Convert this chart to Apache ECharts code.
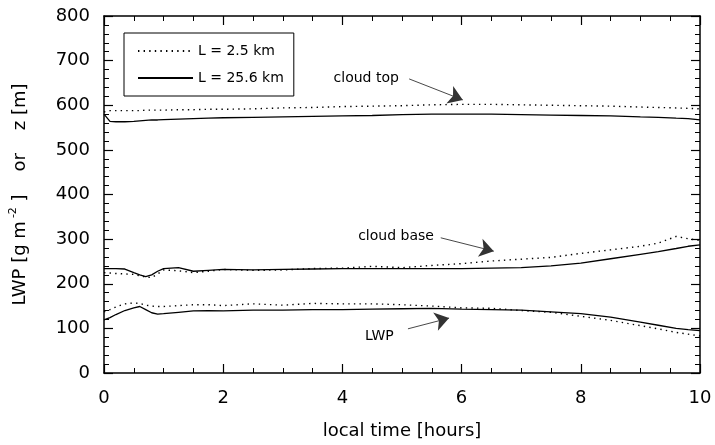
<!DOCTYPE html>
<html>
<head>
<meta charset="utf-8">
<script src="https://cdn.jsdelivr.net/npm/echarts@6/dist/echarts.min.js"></script>
<style>
  html, body { margin: 0; padding: 0; background: #fff; }
  #chart { width: 715px; height: 445px; }
</style>
</head>
<body>
<div id="chart"></div>
<script>
// local time [hours], shared by all curves
const times = [0, 0.1, 0.2, 0.35, 0.5, 0.6, 0.7, 0.8, 0.9, 1.0, 1.25, 1.5, 1.75, 2, 2.5, 3,
  3.5, 4, 4.5, 5, 5.5, 6, 6.5, 7, 7.5, 8, 8.5, 9, 9.3, 9.6, 9.8, 10];

// L = 2.5 km (dotted)
const topFine = [585, 588, 588, 588, 588, 588, 589, 589, 589, 589, 590, 590, 591, 591, 592, 594,
  595, 597, 598, 599, 601, 602, 602, 601, 600, 599, 598, 596, 595, 594, 593, 592];
const baseFine = [225, 224, 223, 222, 221, 218, 215, 214, 222, 231, 229, 225, 228, 232, 230, 231,
  234, 235, 239, 236, 241, 245, 251, 255, 259, 268, 276, 284, 291, 306, 301, 297];
const lwpFine = [137, 142, 148, 155, 157, 156, 152, 150, 149, 149, 151, 153, 153, 151, 155, 152,
  156, 155, 155, 153, 150, 146, 145, 140, 136, 127, 118, 106, 99, 91, 87, 83];

// L = 25.6 km (solid)
const topCoarse = [580, 564, 563, 563, 564, 565, 566, 567, 567, 568, 569, 570, 571, 572, 573, 574,
  575, 576, 577, 579, 580, 580, 580, 579, 578, 577, 576, 574, 573, 571, 570, 567];
const baseCoarse = [234, 234, 234, 233, 225, 220, 216, 220, 228, 234, 236, 228, 230, 232, 231, 232,
  233, 234, 234, 234, 234, 234, 235, 236, 240, 246, 256, 266, 272, 279, 284, 287];
const lwpCoarse = [119, 124, 131, 140, 146, 149, 142, 135, 132, 133, 136, 139, 140, 139, 141, 141,
  142, 142, 143, 144, 145, 143, 142, 141, 137, 133, 125, 114, 107, 100, 97, 95];

// annotations: text, text position, arrow start, arrow tip (data coords)
const notes = [
  { text: 'cloud top', at: [4.4, 661], from: [5.12, 659], to: [6.02, 612] },
  { text: 'cloud base', at: [4.9, 307], from: [5.65, 303], to: [6.54, 273] },
  { text: 'LWP', at: [4.62, 81], from: [5.1, 99], to: [5.79, 123] }
];

const FONT = 'DejaVu Sans';
const FINE = 'L = 2.5 km';
const COARSE = 'L = 25.6 km';

const pair = vals => times.map((t, i) => [t, vals[i]]);

function curve(name, vals, dotted) {
  return {
    name,
    type: 'line',
    data: pair(vals),
    symbol: 'none',
    smooth: false,
    z: dotted ? 3 : 2,
    itemStyle: { color: '#000' },
    lineStyle: dotted
      ? { color: '#000', width: 1.4, type: [1.4, 4.2] }
      : { color: '#000', width: 1.3, type: 'solid' }
  };
}

function frameAxis(pos, isX, showLabels) {
  return {
    type: 'value',
    position: pos,
    min: 0,
    max: isX ? 10 : 800,
    interval: isX ? 2 : 100,
    axisLine: { show: true, onZero: false, lineStyle: { color: '#000', width: 1.5 } },
    axisTick: { show: true, inside: true, length: 9, lineStyle: { color: '#000', width: 1.2 } },
    minorTick: { show: true, splitNumber: isX ? 4 : 5, length: 5, lineStyle: { color: '#000', width: 1 } },
    splitLine: { show: false },
    axisLabel: {
      show: showLabels,
      fontFamily: FONT,
      fontSize: 18,
      color: '#000',
      margin: isX ? 16 : 14
    }
  };
}

const xBottom = frameAxis('bottom', true, true);
xBottom.name = 'local time [hours]';
xBottom.nameLocation = 'middle';
xBottom.nameGap = 49;
xBottom.nameTextStyle = { fontFamily: FONT, fontSize: 18, color: '#000' };

const yLeft = frameAxis('left', false, true);
yLeft.name = '{n|LWP [g m}{s|-2}{n| ]    or    z [m]}';
yLeft.nameLocation = 'middle';
yLeft.nameGap = 72;
yLeft.nameTextStyle = {
  fontFamily: FONT,
  fontSize: 18,
  color: '#000',
  rich: {
    n: { fontFamily: FONT, fontSize: 18, color: '#000', lineHeight: 24 },
    s: { fontFamily: FONT, fontSize: 11, color: '#000', lineHeight: 11, verticalAlign: 'top', padding: [0, 0, 0, 3] }
  }
};

const annotated = curve(COARSE, topCoarse, false);
annotated.markLine = {
  silent: true,
  symbol: ['none', 'arrow'],
  symbolSize: 14,
  label: { show: false },
  lineStyle: { color: '#333', width: 0.9, type: 'solid' },
  data: notes.map(n => [{ coord: n.from }, { coord: n.to }])
};
annotated.markPoint = {
  silent: true,
  symbol: 'circle',
  symbolSize: 0,
  label: { show: true, position: 'inside', fontFamily: FONT, fontSize: 14, color: '#000',
    formatter: p => p.name },
  data: notes.map(n => ({ name: n.text, coord: n.at }))
};

const option = {
  animation: false,
  backgroundColor: '#fff',
  grid: { left: 102, right: 15, top: 16, bottom: 72, containLabel: false },
  legend: {
    orient: 'vertical',
    left: 124,
    top: 33,
    padding: [11, 10, 11, 13],
    itemGap: 13,
    itemWidth: 55,
    itemHeight: 14,
    borderColor: '#000',
    borderWidth: 1,
    itemStyle: { opacity: 0 },
    textStyle: { fontFamily: FONT, fontSize: 14, color: '#000' },
    data: [FINE, COARSE]
  },
  xAxis: [xBottom, frameAxis('top', true, false)],
  yAxis: [yLeft, frameAxis('right', false, false)],
  series: [
    curve(FINE, topFine, true),
    curve(FINE, baseFine, true),
    curve(FINE, lwpFine, true),
    annotated,
    curve(COARSE, baseCoarse, false),
    curve(COARSE, lwpCoarse, false)
  ]
};

const chart = echarts.init(document.getElementById('chart'), null, { renderer: 'canvas' });
chart.setOption(option);
</script>
</body>
</html>
